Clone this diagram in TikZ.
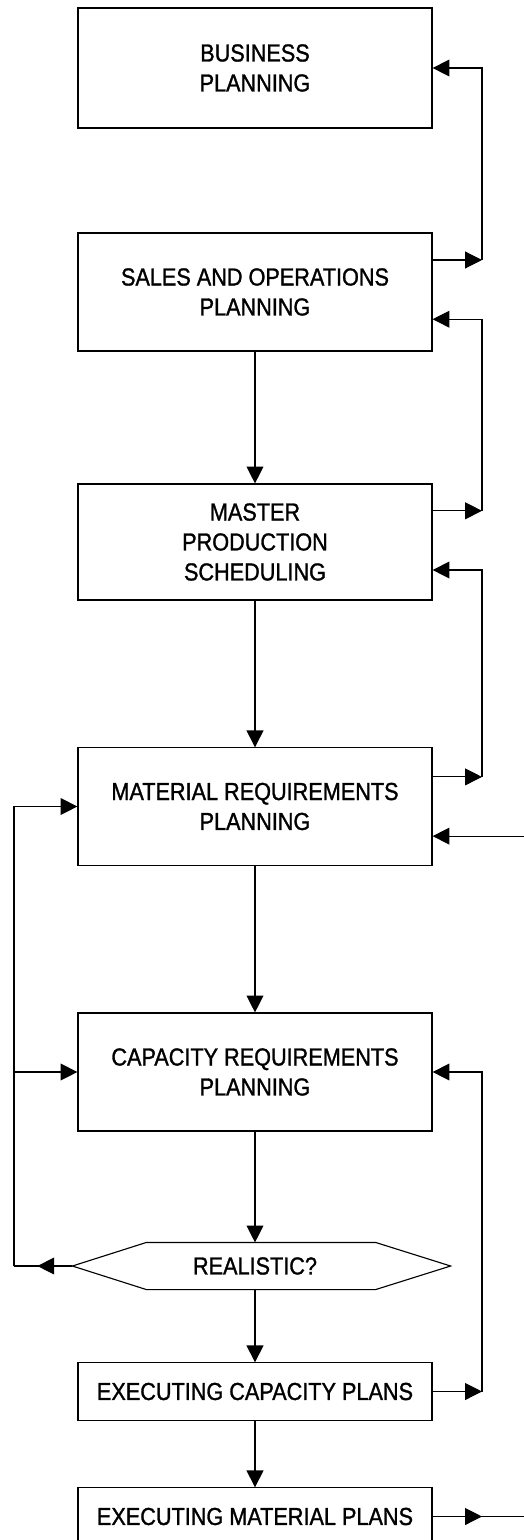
\documentclass[tikz,border=0pt]{standalone}
\usepackage{fontspec}
\setmainfont{Liberation Sans}[FakeStretch=0.88,FakeBold=1.2]
\usepackage{tikz}
\usetikzlibrary{arrows.meta,calc}

\begin{document}
\begin{tikzpicture}[x=0.025cm,y=-0.025cm,
  line width=0.8pt,
  box/.style={draw,align=center,inner sep=0pt,minimum width=8.85cm,minimum height=2.95cm,
    font=\fontsize{17.5}{21.3}\selectfont},
  slim/.style={box,minimum height=1.43cm},
  flow/.style={-{Triangle[length=12pt,width=12pt]}}]
\useasboundingbox (0,0) rectangle (524,1540);
\clip (0,0) rectangle (524,1540);

% boxes
\node[box,minimum height=3cm] (bp) at (255,68) {BUSINESS\\PLANNING};
\node[box] (sop) at (255,292) {SALES AND OPERATIONS\\PLANNING};
\node[box,minimum height=2.9cm] (mps) at (255,542) {MASTER\\PRODUCTION\\SCHEDULING};
\node[box,minimum height=2.93cm] (mrp) at (255,806.5) {MATERIAL REQUIREMENTS\\PLANNING};
\node[box] (crp) at (255,1072) {CAPACITY REQUIREMENTS\\PLANNING};
\node[box,draw=none,minimum width=9.1cm,minimum height=1.15cm] (real) at (255,1266) {REALISTIC?};
\draw (real.west) -- ($(real.north west)+(74,0)$) -- ($(real.north east)+(-62,0)$)
  -- ($(real.east)+(13,0)$) -- ($(real.south east)+(-62,0)$) -- ($(real.south west)+(74,0)$) -- cycle;
\node[slim] (ecp) at (255,1391.5) {EXECUTING CAPACITY PLANS};
\node[slim] (emp) at (255,1516.5) {EXECUTING MATERIAL PLANS};

\coordinate (ra) at (482,0);
\coordinate (redge) at (530,0);
\coordinate (lhex) at (14,1266);

% main flow
\draw[flow] (sop) -- (mps);
\draw[flow] (mps) -- (mrp);
\draw[flow] (mrp) -- (crp);
\draw[flow] (crp) -- (crp |- real.north);
\draw[flow] (crp |- real.south) -- (ecp);
\draw[flow] (ecp) -- (emp);

% feedback on the right
\draw[flow] ([yshift=.8cm]sop.east) -- ([yshift=.8cm]sop.east -| ra);
\draw[flow] ([yshift=.8cm]sop.east -| ra) |- (bp.east);
\draw[flow] ([yshift=.78cm]mps.east) -- ([yshift=.78cm]mps.east -| ra);
\draw[flow] ([yshift=.78cm]mps.east -| ra) |- ([yshift=-.68cm]sop.east);
\draw[flow] ([yshift=.74cm]mrp.east) -- ([yshift=.74cm]mrp.east -| ra);
\draw[flow] ([yshift=.74cm]mrp.east -| ra) |- ([yshift=-.7cm]mps.east);
\draw[flow] ([yshift=-.74cm]mrp.east -| redge) -- ([yshift=-.74cm]mrp.east);
\draw[flow] (ecp.east) -- (ecp.east -| ra);
\draw[flow] (ecp.east -| ra) |- (crp.east);
\draw (emp.east) -- (emp.east -| redge);
\draw[flow] (emp.east) -- (emp.east -| ra);

% feedback on the left
\draw (real.west) -- (lhex);
\draw[flow] (real.west) -- ($(real.west)!0.6!(lhex)$);
\draw[flow] (lhex) |- (mrp.west);
\draw[flow] (lhex |- crp.west) -- (crp.west);
\end{tikzpicture}
\end{document}
